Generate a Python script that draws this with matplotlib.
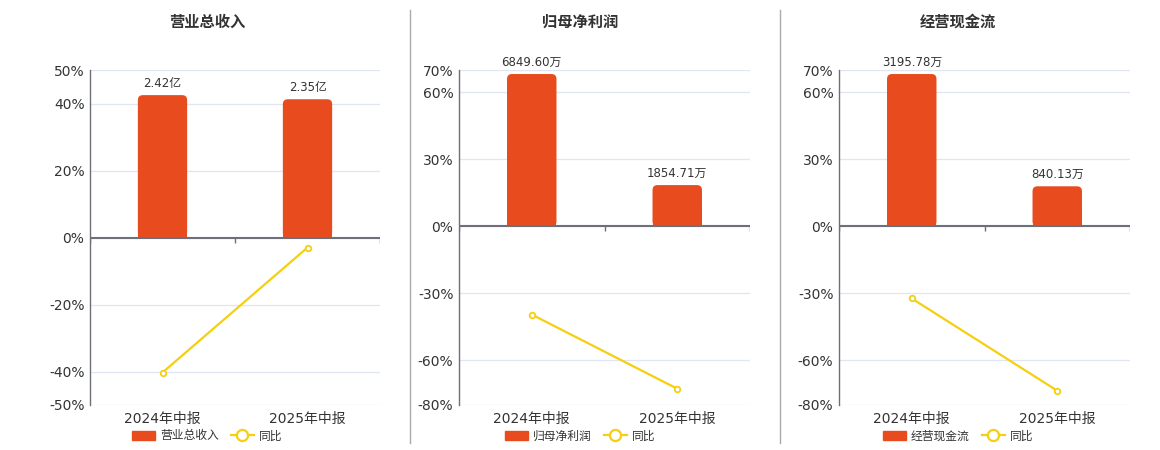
import matplotlib
matplotlib.use("Agg")
import numpy as np
from matplotlib import pyplot as plt
from matplotlib.lines import Line2D
from matplotlib.patches import Patch, FancyBboxPatch, Rectangle

plt.rcParams['font.family'] = ['DejaVu Sans', 'Noto Sans CJK SC']

categories = ["2024年中报", "2025年中报"]
titles = ["营业总收入", "归母净利润", "经营现金流"]

bar_values = [[2.42, 2.35], [6849.60, 1854.71], [3195.78, 840.13]]
bar_labels = [["2.42亿", "2.35亿"], ["6849.60万", "1854.71万"], ["3195.78万", "840.13万"]]
# height (in % axis units) at which the largest bar is drawn in each panel
bar_peak = [42.5, 68.2, 68.2]
yoy = [[-40.3, -3.0], [-39.5, -72.7], [-32.3, -73.6]]

y_limits = [(-50, 50), (-80, 70), (-80, 70)]
y_ticks = [[-50, -40, -20, 0, 20, 40, 50],
           [-80, -60, -30, 0, 30, 60, 70],
           [-80, -60, -30, 0, 30, 60, 70]]

BAR = "#E84C1E"
LINE = "#F5CF10"
TXT = "#333333"
AXC = "#6E7079"
GRID = "#E0E6F1"

W, H = 1160, 450
fig = plt.figure(figsize=(W / 100, H / 100), dpi=100)

axes_px = [(90, 380), (459, 750), (839, 1130)]
top_px, bot_px = 70, 405
panel_centers = [207, 580, 958]
bar_w = 0.34
radius_px = 5

for i in range(3):
    x0, x1 = axes_px[i]
    ax = fig.add_axes([x0 / W, 1 - bot_px / H, (x1 - x0) / W, (bot_px - top_px) / H])
    lo, hi = y_limits[i]
    ax.set_xlim(-0.5, 1.5)
    ax.set_ylim(lo, hi)

    px_x = (x1 - x0) / 2.0
    px_y = (bot_px - top_px) / (hi - lo)
    rx = radius_px / px_x
    aspect = px_x / px_y

    x = np.arange(len(categories))
    vals = np.array(bar_values[i])
    heights = vals / vals.max() * bar_peak[i]
    for xi, h, lab in zip(x, heights, bar_labels[i]):
        ax.add_patch(FancyBboxPatch((xi - bar_w / 2, 0), bar_w, h,
                                    boxstyle=f"round,pad=0,rounding_size={rx}",
                                    mutation_aspect=aspect, fc=BAR, ec="none", zorder=3))
        ax.add_patch(Rectangle((xi - bar_w / 2, 0), bar_w, h / 2, fc=BAR, ec="none", zorder=3))
        ax.annotate(lab, (xi, h), xytext=(0, 4), textcoords="offset points",
                    ha="center", va="bottom", fontsize=8.5, color=TXT, zorder=5)

    ax.plot(x, yoy[i], color=LINE, lw=1.6, marker="o", markersize=4,
            markerfacecolor="white", markeredgecolor=LINE, markeredgewidth=1.3, zorder=4)

    ax.set_yticks(y_ticks[i])
    ax.set_yticklabels([f"{t}%" for t in y_ticks[i]])
    ax.tick_params(axis="y", length=0, labelsize=10, colors=TXT, pad=4)
    ax.set_xticks(x)
    ax.set_xticklabels(categories)
    ax.tick_params(axis="x", length=0, labelsize=10, colors=TXT, pad=5)
    ax.grid(axis="y", color=GRID, lw=0.9, zorder=0)
    ax.set_axisbelow(True)
    for s in ["top", "right", "bottom"]:
        ax.spines[s].set_visible(False)
    ax.spines["left"].set_color(AXC)
    ax.spines["left"].set_linewidth(1.0)

    # zero axis with category boundary ticks
    ax.axhline(0, color=AXC, lw=1.5, zorder=4)
    tick_len = (hi - lo) * 5 / (bot_px - top_px)
    ax.vlines([-0.5, 0.5, 1.5], -tick_len, 0, color=AXC, lw=1.0, zorder=4)

    fig.text(panel_centers[i] / W, 1 - 22 / H, titles[i], ha="center", va="center",
             fontsize=11, fontweight="bold", color=TXT)

    handles = [Patch(facecolor=BAR, edgecolor=BAR, label=titles[i]),
               Line2D([0], [0], color=LINE, lw=1.6, marker="o", markersize=8,
                      markerfacecolor="white", markeredgewidth=1.6, label="同比")]
    fig.legend(handles=handles, loc="center", ncol=2,
               bbox_to_anchor=(panel_centers[i] / W, 1 - 436 / H),
               frameon=False, fontsize=8.5, handlelength=2.0, handleheight=0.9,
               columnspacing=1.0, handletextpad=0.4, labelcolor=TXT)

# divider lines between panels
for xd in (410, 780):
    fig.add_artist(Line2D([xd / W, xd / W], [1 - 443 / H, 1 - 10 / H],
                          color="#AAAAAA", lw=1.0))

fig.savefig("out.png", dpi=100, facecolor="white")
